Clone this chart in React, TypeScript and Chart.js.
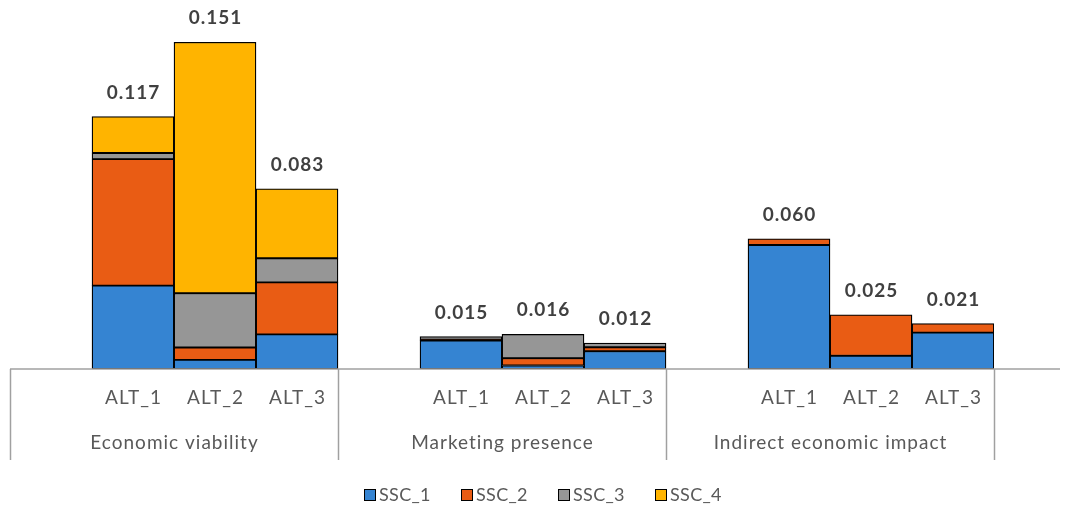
import React, { useEffect, useRef } from "react";
import { Chart, registerables } from "chart.js";

Chart.register(...registerables);

const CATEGORIES = ["", "ALT_1", "ALT_2", "ALT_3", "", "ALT_1", "ALT_2", "ALT_3", "", "ALT_1", "ALT_2", "ALT_3"];
const GROUPS = ["Economic viability", "Marketing presence", "Indirect economic impact"];
const SERIES_NAMES = ["SSC_1", "SSC_2", "SSC_3", "SSC_4"];
const SSC_1 = [null, 0.0385, 0.0042, 0.016, null, 0.0132, 0.0016, 0.0082, null, 0.0573, 0.0061, 0.0168];
const SSC_2 = [null, 0.0584, 0.0057, 0.024, null, 0.0003, 0.0034, 0.0018, null, 0.0028, 0.0189, 0.0042];
const SSC_3 = [null, 0.0028, 0.0251, 0.0111, null, 0.0015, 0.011, 0.002, null, null, null, null];
const SSC_4 = [null, 0.0169, 0.1159, 0.0321, null, null, null, null, null, null, null, null];
const COLORS = ["#3584d2", "#e95c14", "#969696", "#ffb400"];

const FONT = "Lato, 'Open Sans', sans-serif";

const overlay = {
  id: "overlay",
  afterDraw(chart: any) {
    const ctx = chart.ctx;
    const x = chart.scales.x;
    const y = chart.scales.y;
    const area = chart.chartArea;
    const slot = x.getPixelForValue(1) - x.getPixelForValue(0);
    const base = y.getPixelForValue(0);
    ctx.save();
    // axis line
    ctx.strokeStyle = "#a0a0a0";
    ctx.lineWidth = 1.5;
    ctx.beginPath();
    ctx.moveTo(area.left, base);
    ctx.lineTo(1060, base);
    ctx.stroke();
    // group separators
    for (let g = 0; g <= GROUPS.length; g++) {
      const idx = g * 4;
      const px = Math.round(x.getPixelForValue(Math.min(idx, CATEGORIES.length - 1)) + (idx >= CATEGORIES.length ? slot / 2 : -slot / 2)) + 0.5;
      ctx.beginPath();
      ctx.moveTo(px, base);
      ctx.lineTo(px, 460);
      ctx.stroke();
    }
    // category labels
    ctx.fillStyle = "#595959";
    ctx.textAlign = "center";
    ctx.textBaseline = "middle";
    ctx.font = `19px ${FONT}`;
    ctx.letterSpacing = "1px";
    CATEGORIES.forEach((c, i) => {
      if (c) ctx.fillText(c, x.getPixelForValue(i) + 0.5, 398);
    });
    GROUPS.forEach((g, gi) => {
      const l = x.getPixelForValue(gi * 4) - slot / 2;
      const r = x.getPixelForValue(gi * 4 + 3) + slot / 2;
      ctx.fillText(g, (l + r) / 2 + 0.5, 443);
    });
    // totals
    ctx.fillStyle = "#404040";
    ctx.font = `bold 19px ${FONT}`;
    ctx.letterSpacing = "1px";
    CATEGORIES.forEach((c, i) => {
      if (!c) return;
      const total = [SSC_1, SSC_2, SSC_3, SSC_4].reduce((s, arr) => s + (arr[i] || 0), 0);
      ctx.fillText(total.toFixed(3), x.getPixelForValue(i) + 0.5, y.getPixelForValue(total) - 24);
    });
    // legend
    ctx.font = `18px ${FONT}`;
    ctx.letterSpacing = "0.3px";
    ctx.textAlign = "left";
    const startX = 364;
    const step = 97;
    SERIES_NAMES.forEach((n, i) => {
      const bx = startX + i * step;
      ctx.fillStyle = COLORS[i];
      ctx.fillRect(bx, 489.5, 11, 11);
      ctx.strokeStyle = "#000";
      ctx.lineWidth = 1;
      ctx.strokeRect(bx + 0.5, 489.5, 11, 11);
      ctx.fillStyle = "#595959";
      ctx.fillText(n, bx + 15, 495);
    });
    ctx.restore();
  },
};

export default function App() {
  const ref = useRef<HTMLCanvasElement>(null);
  useEffect(() => {
    if (!ref.current) return;
    const series = [SSC_1, SSC_2, SSC_3, SSC_4];
    const chart = new Chart(ref.current, {
      type: "bar",
      data: {
        labels: CATEGORIES,
        datasets: series.map((d, i) => ({
          label: SERIES_NAMES[i],
          data: d as any,
          backgroundColor: COLORS[i],
          borderColor: "#000000",
          borderWidth: 1.3,
          borderSkipped: false,
          categoryPercentage: 1,
          barPercentage: 1,
        })),
      },
      options: {
        animation: false,
        responsive: true,
        maintainAspectRatio: false,
        layout: { padding: { top: 22.5, bottom: 139, left: 10, right: 74 } },
        plugins: { legend: { display: false }, tooltip: { enabled: false } },
        scales: {
          x: { stacked: true, display: false, grid: { display: false } },
          y: { stacked: true, display: false, min: 0, max: 0.16, grid: { display: false } },
        },
      },
      plugins: [overlay],
    });
    return () => chart.destroy();
  }, []);
  return (
    <div style={{ position: "absolute", left: 0, top: 0, width: 1068, height: 508, background: "#fff" }}>
      <canvas ref={ref} />
    </div>
  );
}
